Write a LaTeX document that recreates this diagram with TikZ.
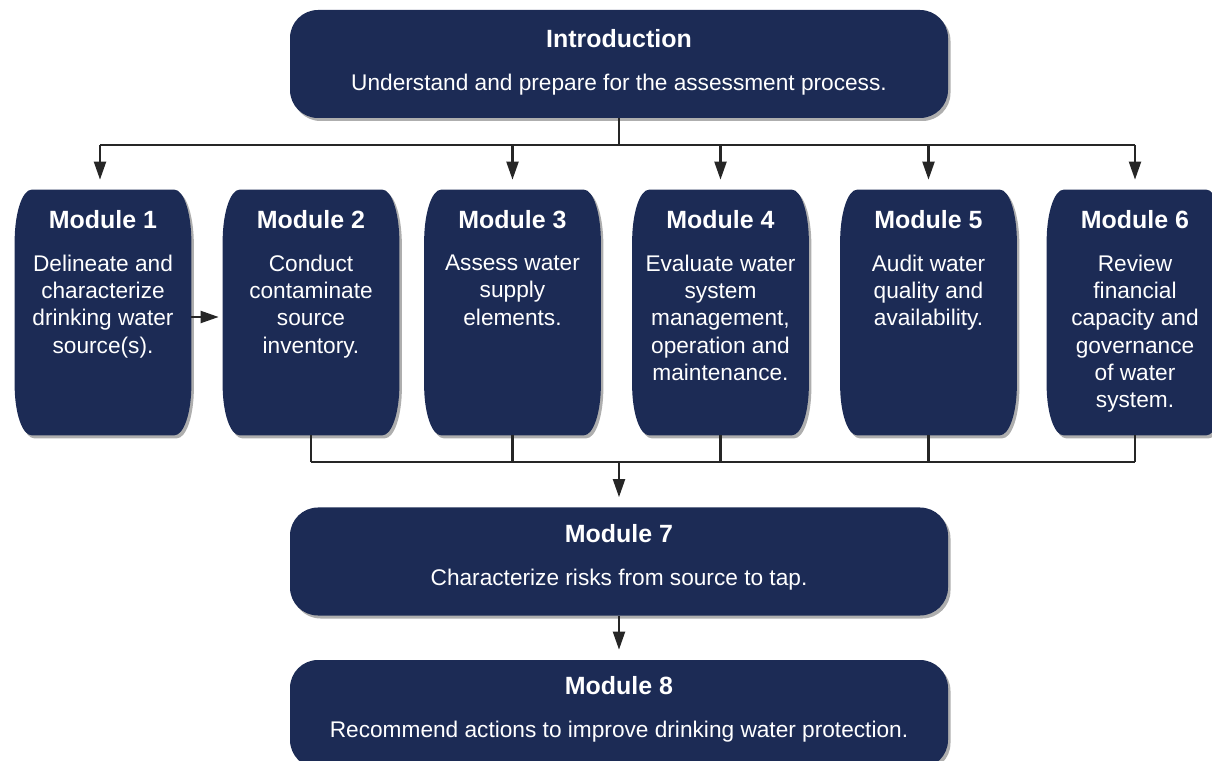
\documentclass[tikz,border=0pt]{standalone}
\usepackage{fontspec}
\setmainfont{Liberation Sans}
\usepackage{tikz}
\usetikzlibrary{arrows.meta, positioning, calc, shadows, backgrounds}

\definecolor{navy}{RGB}{28,43,85}

\begin{document}
\begin{tikzpicture}[
        wide/.style={rectangle, fill=navy, rounded corners=0.56cm, minimum width=13.16cm, minimum height=2.16cm, inner sep=0pt,
            drop shadow={shadow xshift=0.05cm, shadow yshift=-0.06cm, opacity=0.45, fill=black!70}},
        modbox/.style={rectangle, minimum width=3.52cm, minimum height=4.9cm, inner sep=0pt}, % filled below, corners are elliptical
        title/.style={anchor=north, inner sep=0pt, text=white, font=\bfseries\fontsize{14.2}{17}\selectfont},
        body/.style={anchor=north, inner sep=0pt, text=white, align=center, font=\fontsize{12.9}{15.5}\selectfont},
        line/.style={line width=1.2pt, draw=black!85},
        arrow/.style={line, -{Triangle[length=0.36cm, width=0.24cm]}, shorten >=0.2cm}
    ]
    \useasboundingbox (0,0) rectangle (24.24,-15.22);

    % Introduction (top)
    \node[wide] (intro) at (12.38,-1.28) {};
    \node[title] (intro_title) at ([yshift=-0.38cm]intro.north) {Introduction};
    \node[body] (intro_text) at ([yshift=-1.28cm]intro.north) {Understand and prepare for the assessment process.};

    % Modules 1-6 (row)
    \node[modbox] (mod1) at (2.06,-6.25) {};
    \node[modbox] (mod2) at (6.22,-6.25) {};
    \node[modbox] (mod3) at (10.25,-6.25) {};
    \node[modbox] (mod4) at (14.41,-6.25) {};
    \node[modbox] (mod5) at (18.57,-6.25) {};
    \node[modbox] (mod6) at (22.70,-6.25) {};

    % Box fills with tall rounded corners
    \begin{scope}[on background layer]
        \foreach \m in {mod1,mod2,mod3,mod4,mod5,mod6}
            \fill[navy, drop shadow={shadow xshift=0.05cm, shadow yshift=-0.06cm, opacity=0.45, fill=black!70}]
                ([xshift=0.34cm]\m.north west) -- ([xshift=-0.34cm]\m.north east)
                arc[start angle=90, end angle=0, x radius=0.34cm, y radius=1.04cm]
                -- ([yshift=1.0cm]\m.south east)
                arc[start angle=0, end angle=-90, x radius=0.34cm, y radius=1.0cm]
                -- ([xshift=0.34cm]\m.south west)
                arc[start angle=270, end angle=180, x radius=0.34cm, y radius=1.0cm]
                -- ([yshift=-1.04cm]\m.north west)
                arc[start angle=180, end angle=90, x radius=0.34cm, y radius=1.04cm] -- cycle;
    \end{scope}

    \node[title] (mod1_title) at ([yshift=-0.4cm]mod1.north) {Module 1};
    \node[body] (mod1_text) at ([yshift=-1.3cm]mod1.north) {Delineate and\\ characterize\\ drinking water\\ source(s).};
    \node[title] (mod2_title) at ([yshift=-0.4cm]mod2.north) {Module 2};
    \node[body] (mod2_text) at ([yshift=-1.3cm]mod2.north) {Conduct\\ contaminate\\ source\\ inventory.};
    \node[title] (mod3_title) at ([yshift=-0.4cm]mod3.north) {Module 3};
    \node[body] (mod3_text) at ([yshift=-1.3cm]mod3.north) {Assess water\\ supply\\ elements.};
    \node[title] (mod4_title) at ([yshift=-0.4cm]mod4.north) {Module 4};
    \node[body] (mod4_text) at ([yshift=-1.3cm]mod4.north) {Evaluate water\\ system\\ management,\\ operation and\\ maintenance.};
    \node[title] (mod5_title) at ([yshift=-0.4cm]mod5.north) {Module 5};
    \node[body] (mod5_text) at ([yshift=-1.3cm]mod5.north) {Audit water\\ quality and\\ availability.};
    \node[title] (mod6_title) at ([yshift=-0.4cm]mod6.north) {Module 6};
    \node[body] (mod6_text) at ([yshift=-1.3cm]mod6.north) {Review\\ financial\\ capacity and\\ governance\\ of water\\ system.};

    % Modules 7 and 8 (bottom)
    \node[wide] (mod7) at (12.38,-11.23) {};
    \node[title] (mod7_title) at ([yshift=-0.34cm]mod7.north) {Module 7};
    \node[body] (mod7_text) at ([yshift=-1.24cm]mod7.north) {Characterize risks from source to tap.};
    \node[wide] (mod8) at (12.38,-14.28) {};
    \node[title] (mod8_title) at ([yshift=-0.32cm]mod8.north) {Module 8};
    \node[body] (mod8_text) at ([yshift=-1.22cm]mod8.north) {Recommend actions to improve drinking water protection.};

    % Connections - top bus
    \coordinate (top_bus) at (0,-2.9);
    \draw[line] (intro.south) -- (intro.south |- top_bus);
    \draw[line] ([xshift=-0.06cm]mod1.north |- top_bus) -- (mod6.north |- top_bus);
    \draw[arrow] ([xshift=-0.06cm]mod1.north |- top_bus) -- ([xshift=-0.06cm]mod1.north);
    \foreach \m in {mod3,mod4,mod5,mod6}
        \draw[arrow] (\m.north |- top_bus) -- (\m.north);
    \draw[arrow, shorten >=0.08cm] ([yshift=-0.09cm]mod1.east) -- ([yshift=-0.09cm]mod2.west);

    % Connections - bottom bus
    \coordinate (low_bus) at (0,-9.24);
    \foreach \m in {mod2,mod3,mod4,mod5,mod6}
        \draw[line] (\m.south) -- (\m.south |- low_bus);
    \draw[line] (mod2.south |- low_bus) -- (mod6.south |- low_bus);
    \draw[arrow] (mod7.north |- low_bus) -- (mod7.north);
    \draw[arrow] (mod7.south) -- (mod8.north);

\end{tikzpicture}
\end{document}
